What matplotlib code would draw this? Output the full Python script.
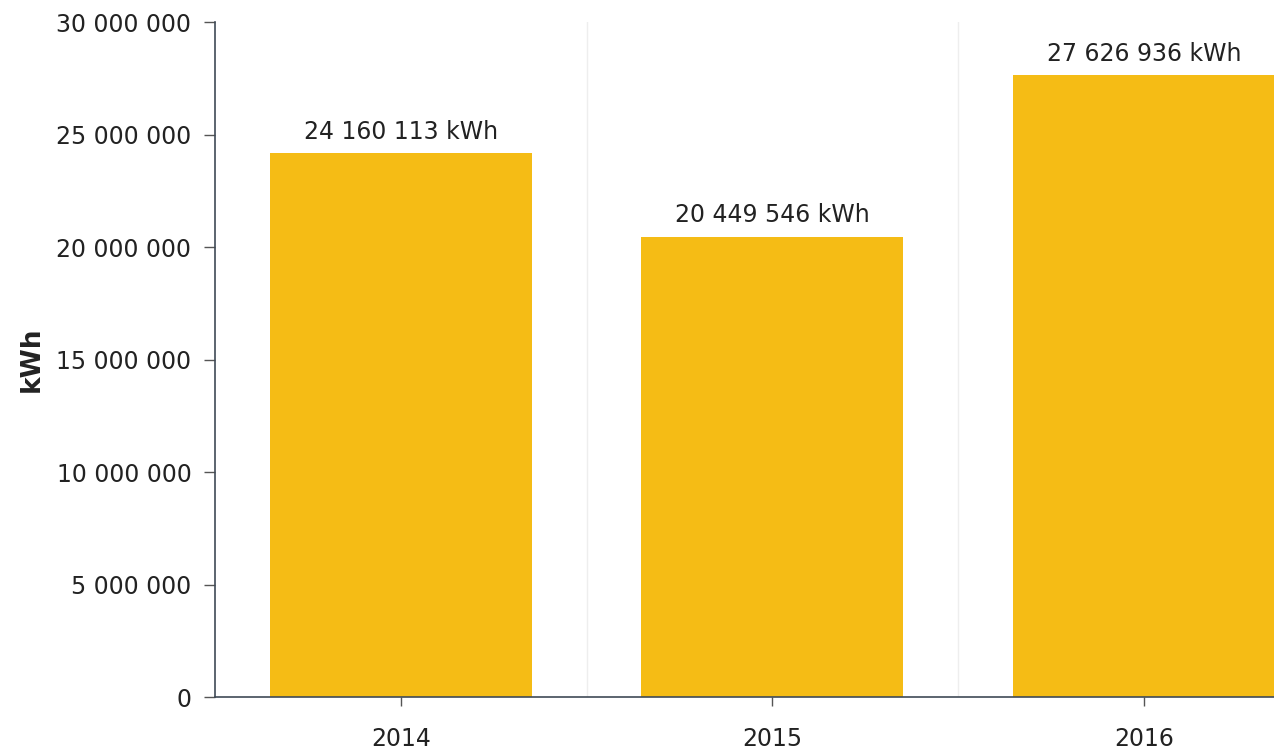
import matplotlib
matplotlib.use("Agg")
from matplotlib import pyplot as plt
import numpy as np

years = ["2014", "2015", "2016"]
energy_kwh = [24160113, 20449546, 27626936]
y_ticks = [0, 5000000, 10000000, 15000000, 20000000, 25000000, 30000000]


def spaced(v):
    return "{:,}".format(v).replace(",", " ")


plt.rcParams['font.family'] = ['DejaVu Sans']

fig = plt.figure(figsize=(12.74, 7.49), dpi=100)
# right edge of the axes runs past the figure, the last bar is cut off
ax = fig.add_axes([0.1688, 0.0694, 0.875, 0.9012])

x = np.arange(len(years))
bars = ax.bar(x, energy_kwh, width=0.705, color='#F5BC15', zorder=2)

for b, v in zip(bars, energy_kwh):
    ax.annotate(spaced(v) + " kWh", (b.get_x() + b.get_width() / 2, v),
                xytext=(0, 7), textcoords='offset points',
                ha='center', va='bottom', fontsize=17, color='#222222')

ax.set_xlim(-0.5, len(years) - 0.5)
ax.set_ylim(0, 30000000)
ax.set_xticks(x)
ax.set_xticklabels(years)
ax.set_yticks(y_ticks)
ax.set_yticklabels([spaced(t) for t in y_ticks])

# faint separators between categories
ax.set_xticks(x[:-1] + 0.5, minor=True)
ax.grid(True, axis='x', which='minor', color='#eeeeee', linewidth=1, zorder=0)
ax.tick_params(axis='x', which='minor', length=0)

ax.tick_params(axis='y', which='major', length=8, width=1, color='#555555',
               pad=9, labelsize=17, labelcolor='#222222')
ax.tick_params(axis='x', which='major', length=6.5, width=1, color='#555555',
               pad=15, labelsize=17, labelcolor='#222222')

for s in ['top', 'right']:
    ax.spines[s].set_visible(False)
for s in ['left', 'bottom']:
    ax.spines[s].set_color('#3f4a56')
    ax.spines[s].set_linewidth(1.2)

ax.set_ylabel("kWh", fontsize=19, fontweight='bold', color='#222222', labelpad=8)

fig.savefig('out.png', dpi=100)
